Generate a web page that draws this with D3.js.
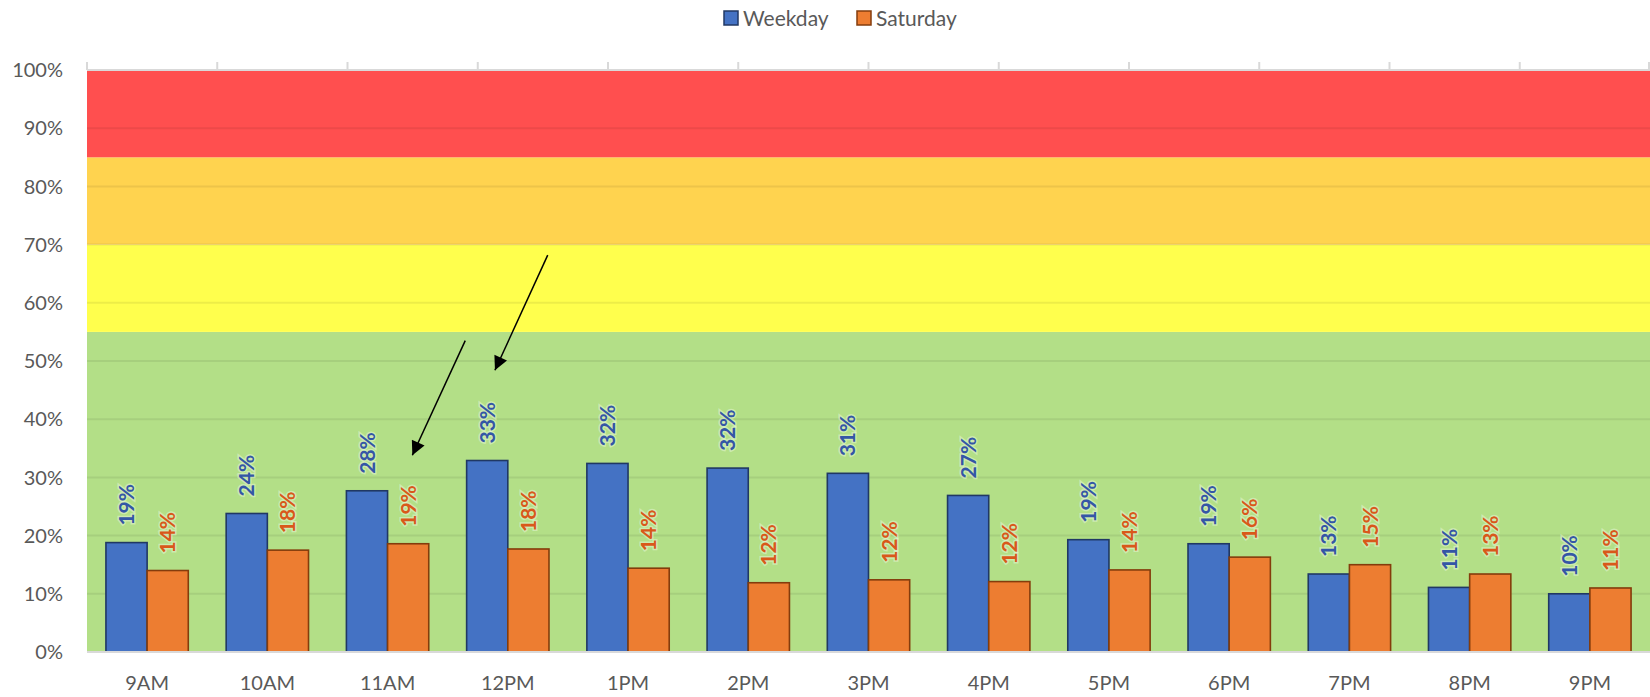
<!DOCTYPE html>
<html>
<head>
<meta charset="utf-8">
<script src="https://cdn.jsdelivr.net/npm/d3@7"></script>
<style>
  body { margin: 0; background: #fff; }
  svg { display: block; font-family: Lato, "Liberation Sans", sans-serif; }
  .lbl { font-weight: bold; paint-order: stroke; stroke: rgba(255,255,255,0.35); stroke-width: 3px; }
</style>
</head>
<body>
<div id="chart"></div>
<script>
//categories and series
var hours = ['9AM', '10AM', '11AM', '12PM', '1PM', '2PM', '3PM', '4PM', '5PM', '6PM', '7PM', '8PM', '9PM'];
var weekday = [0.188, 0.238, 0.277, 0.329, 0.324, 0.316, 0.307, 0.269, 0.193, 0.186, 0.134, 0.111, 0.100];
var saturday = [0.140, 0.175, 0.186, 0.177, 0.144, 0.119, 0.124, 0.121, 0.141, 0.163, 0.150, 0.134, 0.110];
var seriesNames = ['Weekday', 'Saturday'];

//background zones (lower bounds .. upper bounds)
var zoneBreaks = [0, 0.55, 0.70, 0.85, 1.0];
var yTicks = [0, 0.1, 0.2, 0.3, 0.4, 0.5, 0.6, 0.7, 0.8, 0.9, 1.0];
//the band series sits on a second axis with 12 slots
var bandSlots = 12;

//annotation arrows [category position, value] -> [category position, value]
var arrows = [
  { from: [3.146, 0.535], to: [2.706, 0.338] },
  { from: [3.832, 0.682], to: [3.393, 0.484] }
];

var W = 1650, H = 697;
var margin = { top: 70, right: 0, bottom: 45, left: 87 };
var width = W - margin.left - margin.right,
  height = H - margin.top - margin.bottom;

var zoneColors = ['#b3df87', '#ffff4d', '#ffd34f', '#ff4f4f'];
var fill = ['#4472c4', '#ed7d31'];
var stroke = ['#203864', '#843c0c'];
var labelColor = ['#3456a6', '#d9581a'];

var svg = d3.select('#chart').append('svg')
  .attr('width', W)
  .attr('height', H);

var g = svg.append('g')
  .attr('transform', 'translate(' + margin.left + ',' + margin.top + ')');

var x = d3.scaleBand()
  .domain(hours)
  .range([0, width]);
var xPos = d3.scaleLinear().domain([0, hours.length]).range([0, width]);
var x1 = d3.scaleBand()
  .domain(seriesNames)
  .range([0, x.bandwidth()])
  .paddingOuter(0.46);
var y = d3.scaleLinear()
  .domain([0, 1])
  .range([height, 0]);

//zones
for (var i = 0; i < zoneBreaks.length - 1; i++) {
  g.append('rect')
    .attr('x', 0)
    .attr('width', width)
    .attr('y', y(zoneBreaks[i + 1]))
    .attr('height', y(zoneBreaks[i]) - y(zoneBreaks[i + 1]))
    .attr('fill', zoneColors[i]);
}

//gridlines
g.selectAll('.grid')
  .data(yTicks.slice(1, -1))
  .enter()
  .append('line')
  .attr('x1', 0)
  .attr('x2', width)
  .attr('y1', function (d) { return y(d); })
  .attr('y2', function (d) { return y(d); })
  .attr('stroke', 'rgba(0,0,0,0.07)')
  .attr('stroke-width', 2);

//top secondary axis (ticks only)
var xTop = d3.scaleLinear().domain([0, bandSlots]).range([0, width]);
g.selectAll('.ttick')
  .data(d3.range(0, bandSlots + 1))
  .enter()
  .append('line')
  .attr('x1', function (d) { return Math.min(xTop(d), width - 1); })
  .attr('x2', function (d) { return Math.min(xTop(d), width - 1); })
  .attr('y1', -8)
  .attr('y2', 0)
  .attr('stroke', '#d9d9d9')
  .attr('stroke-width', 2);
g.append('line')
  .attr('x1', 0).attr('x2', width)
  .attr('y1', 0).attr('y2', 0)
  .attr('stroke', '#d9d9d9')
  .attr('stroke-width', 2);

//bars
var series = [weekday, saturday];
series.forEach(function (vals, s) {
  var grp = g.append('g');
  grp.selectAll('rect')
    .data(vals)
    .enter()
    .append('rect')
    .attr('x', function (d, i) { return x(hours[i]) + x1(seriesNames[s]); })
    .attr('width', x1.bandwidth())
    .attr('y', function (d) { return y(d); })
    .attr('height', function (d) { return height - y(d); })
    .attr('fill', fill[s])
    .attr('stroke', stroke[s])
    .attr('stroke-width', 1.6);

  grp.selectAll('text')
    .data(vals)
    .enter()
    .append('text')
    .attr('class', 'lbl')
    .attr('transform', function (d, i) {
      var cx = x(hours[i]) + x1(seriesNames[s]) + x1.bandwidth() / 2;
      return 'translate(' + cx + ',' + (y(d) - 17) + ') rotate(-90)';
    })
    .attr('dy', '0.36em')
    .attr('text-anchor', 'start')
    .style('font-size', '21px')
    .attr('fill', labelColor[s])
    .text(function (d) { return d3.format('.0%')(d); });
});

//bottom axis line
g.append('line')
  .attr('x1', 0).attr('x2', width)
  .attr('y1', height).attr('y2', height)
  .attr('stroke', '#d9d9d9')
  .attr('stroke-width', 2);

//y axis labels
g.selectAll('.ylab')
  .data(yTicks)
  .enter()
  .append('text')
  .attr('x', -24)
  .attr('y', function (d) { return y(d); })
  .attr('dy', '0.36em')
  .attr('text-anchor', 'end')
  .attr('fill', '#595959')
  .style('font-size', '20px')
  .text(function (d) { return d3.format('.0%')(d); });

//x axis labels
g.selectAll('.xlab')
  .data(hours)
  .enter()
  .append('text')
  .attr('x', function (d) { return x(d) + x.bandwidth() / 2; })
  .attr('y', height + 31)
  .attr('dy', '0.36em')
  .attr('text-anchor', 'middle')
  .attr('fill', '#595959')
  .style('font-size', '20px')
  .text(function (d) { return d; });

//arrows
svg.append('defs').append('marker')
  .attr('id', 'head')
  .attr('viewBox', '0 0 10 10')
  .attr('refX', 10)
  .attr('refY', 5)
  .attr('markerWidth', 10)
  .attr('markerHeight', 10)
  .attr('markerUnits', 'userSpaceOnUse')
  .attr('orient', 'auto')
  .append('path')
  .attr('d', 'M0,0 L10,5 L0,10 z')
  .attr('fill', '#000');
svg.select('marker').attr('markerWidth', 16).attr('markerHeight', 14);

g.selectAll('.arrow')
  .data(arrows)
  .enter()
  .append('line')
  .attr('x1', function (d) { return xPos(d.from[0]); })
  .attr('y1', function (d) { return y(d.from[1]); })
  .attr('x2', function (d) { return xPos(d.to[0]); })
  .attr('y2', function (d) { return y(d.to[1]); })
  .attr('stroke', '#000')
  .attr('stroke-width', 1.5)
  .attr('marker-end', 'url(#head)');

//legend
var legend = svg.append('g').attr('transform', 'translate(723,10)');
var lx = [0, 133];
seriesNames.forEach(function (name, s) {
  legend.append('rect')
    .attr('x', lx[s] + 1)
    .attr('y', 1)
    .attr('width', 14)
    .attr('height', 14)
    .attr('fill', fill[s])
    .attr('stroke', stroke[s])
    .attr('stroke-width', 1.5);
  legend.append('text')
    .attr('x', lx[s] + 20)
    .attr('y', 8)
    .attr('dy', '0.36em')
    .attr('fill', '#595959')
    .style('font-size', '21px')
    .text(name);
});
</script>
</body>
</html>
